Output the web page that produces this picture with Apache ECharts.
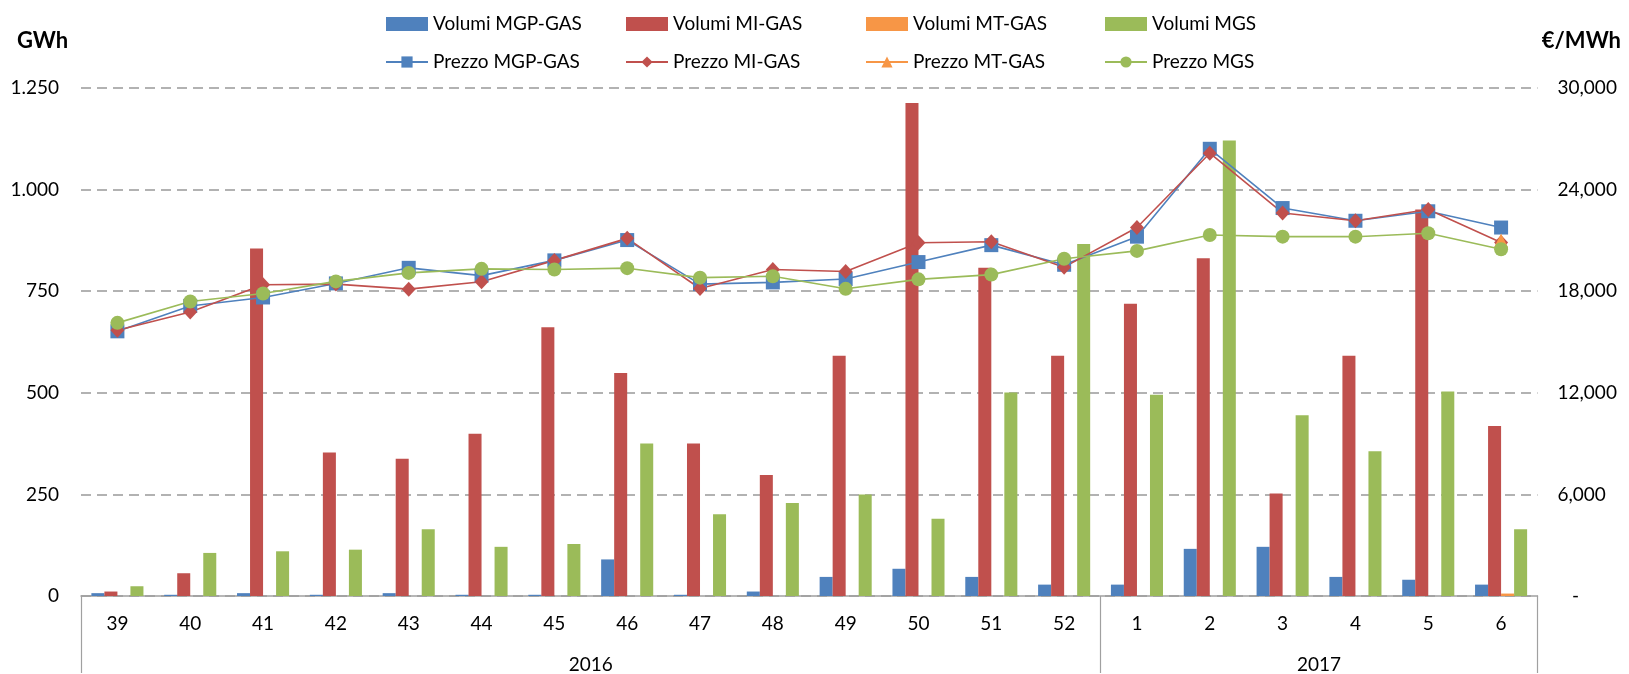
<!DOCTYPE html>
<html>
<head>
<meta charset="utf-8">
<title>Volumi e prezzi gas</title>
<script src="https://cdn.jsdelivr.net/npm/echarts@6/dist/echarts.min.js"></script>
<style>
	html, body { margin: 0; padding: 0; background: #fff; }
	#chart { width: 1629px; height: 674px; }
</style>
</head>
<body>
<div id="chart"></div>
<script>
// settimane (categorie) e anni
var weeks = ['39', '40', '41', '42', '43', '44', '45', '46', '47', '48', '49', '50', '51', '52', '1', '2', '3', '4', '5', '6'];
var years = ['2016', '2017'];
var yearSpan = [14, 6];

// volumi in GWh
var volMgp = [7, 3, 7, 3, 7, 3, 3, 90, 3, 11, 47, 67, 47, 28, 28, 116, 121, 47, 40, 28];
var volMi = [11, 56, 855, 353, 338, 399, 661, 549, 375, 298, 591, 1213, 808, 591, 719, 831, 252, 591, 951, 418];
var volMt = [0, 0, 0, 0, 0, 0, 0, 0, 0, 0, 0, 0, 0, 0, 0, 0, 0, 0, 0, 6];
var volMgs = [24, 106, 110, 114, 164, 121, 128, 375, 201, 229, 250, 190, 501, 866, 495, 1121, 445, 356, 503, 164];

// prezzi in €/MWh
var prMgp = [15630, 17130, 17630, 18460, 19380, 18920, 19820, 21020, 18420, 18520, 18720, 19720, 20720, 19560, 21220, 26410, 22910, 22160, 22720, 21760];
var prMi = [15690, 16770, 18380, 18420, 18120, 18560, 19820, 21120, 18160, 19280, 19160, 20860, 20920, 19420, 21760, 26150, 22620, 22160, 22820, 20880];
var prMt = [null, null, null, null, null, null, null, null, null, null, null, null, null, null, null, null, null, null, null, 21000];
var prMgs = [16130, 17390, 17860, 18580, 19080, 19320, 19280, 19360, 18800, 18880, 18140, 18700, 18980, 19920, 20380, 21320, 21220, 21220, 21420, 20480];

// tick labels
var leftTicks = [0, 250, 500, 750, 1000, 1250];
var rightTicks = [0, 6000, 12000, 18000, 24000, 30000];

var BLUE = '#4F81BD', RED = '#C0504D', ORANGE = '#F79646', GREEN = '#9BBB59';
var FONT = 'Lato';
var GRAY = '#A0A0A0';

function dotThousands(v) {
	return String(v).replace(/\B(?=(\d{3})+(?!\d))/g, '.');
}

function barSeries(name, data, color) {
	return {
		name: name,
		type: 'bar',
		yAxisIndex: 0,
		barGap: '0%',
		barCategoryGap: '28.5%',
		itemStyle: { color: color },
		data: data
	};
}

function lineSeries(name, data, color, symbol, size) {
	return {
		name: name,
		type: 'line',
		yAxisIndex: 1,
		symbol: symbol,
		symbolSize: size,
		showSymbol: true,
		connectNulls: false,
		lineStyle: { color: color, width: 1.6 },
		itemStyle: { color: color },
		z: 5,
		data: data
	};
}

// una colonna di legenda: volume (rettangolo) sopra, prezzo (linea) sotto
function legendCol(left, names) {
	return {
		orient: 'vertical',
		left: left,
		top: 9,
		itemWidth: 42,
		itemHeight: 14,
		itemGap: 18,
		textStyle: { fontFamily: FONT, fontSize: 19, color: '#000', lineHeight: 20 },
		data: [{ name: names[0], icon: 'rect' }, { name: names[1] }]
	};
}

// posizione delle etichette anno sull'asse secondario
var yearMid = [];
var yearBounds = [0];
var acc = 0;
yearSpan.forEach(function(n) {
	yearMid.push(acc + n / 2);
	acc += n;
	yearBounds.push(acc);
});

var myChart = echarts.init(document.getElementById('chart'));
var option = {
	animation: false,
	title: [
		{ text: 'GWh', left: 12, top: 25, textStyle: { fontFamily: FONT, fontSize: 22, fontWeight: 'bold', color: '#000' } },
		{ text: '€/MWh', right: 3, top: 25, textStyle: { fontFamily: FONT, fontSize: 22, fontWeight: 'bold', color: '#000' } }
	],
	legend: [
		legendCol(380, ['Volumi MGP-GAS', 'Prezzo MGP-GAS']),
		legendCol(620, ['Volumi MI-GAS', 'Prezzo MI-GAS']),
		legendCol(860, ['Volumi MT-GAS', 'Prezzo MT-GAS']),
		legendCol(1099, ['Volumi MGS', 'Prezzo MGS'])
	],
	grid: { left: 81, right: 91.5, top: 88, bottom: 77 },
	xAxis: [{
		type: 'category',
		data: weeks,
		boundaryGap: true,
		axisLine: { lineStyle: { color: GRAY, width: 1.5 } },
		axisTick: { interval: 0, length: 41, lineStyle: { color: GRAY, width: 1.2 } },
		axisLabel: { interval: 0, margin: 18, fontFamily: FONT, fontSize: 19, color: '#000' }
	}, {
		// secondo livello: anni
		type: 'value',
		position: 'bottom',
		min: 0,
		max: weeks.length,
		axisLine: { show: false },
		splitLine: { show: false },
		axisTick: { show: true, customValues: yearBounds, length: 77, lineStyle: { color: GRAY, width: 1.2 } },
		axisLabel: {
			customValues: yearMid,
			margin: 59,
			fontFamily: FONT, fontSize: 19, color: '#000',
			formatter: function(v) { return years[yearMid.indexOf(v)] || ''; }
		}
	}],
	yAxis: [{
		type: 'value',
		min: leftTicks[0],
		max: leftTicks[leftTicks.length - 1],
		interval: 250,
		axisLine: { show: false },
		axisTick: { show: false },
		splitLine: { show: true, lineStyle: { color: '#999', width: 1.6, type: [10, 6] } },
		axisLabel: { margin: 22, fontFamily: FONT, fontSize: 19, color: '#000', formatter: dotThousands }
	}, {
		type: 'value',
		min: rightTicks[0],
		max: rightTicks[rightTicks.length - 1],
		interval: 6000,
		axisLine: { show: false },
		axisTick: { show: false },
		splitLine: { show: false },
		axisLabel: {
			margin: 20, fontFamily: FONT, fontSize: 19, color: '#000',
			formatter: function(v) { return v === 0 ? '   -' : v.toLocaleString('en-US'); }
		}
	}],
	series: [
		barSeries('Volumi MGP-GAS', volMgp, BLUE),
		barSeries('Volumi MI-GAS', volMi, RED),
		barSeries('Volumi MT-GAS', volMt, ORANGE),
		barSeries('Volumi MGS', volMgs, GREEN),
		lineSeries('Prezzo MGP-GAS', prMgp, BLUE, 'rect', 14),
		lineSeries('Prezzo MI-GAS', prMi, RED, 'diamond', [14, 15]),
		lineSeries('Prezzo MT-GAS', prMt, ORANGE, 'triangle', 14),
		lineSeries('Prezzo MGS', prMgs, GREEN, 'circle', 14)
	]
};
myChart.setOption(option);
</script>
</body>
</html>
